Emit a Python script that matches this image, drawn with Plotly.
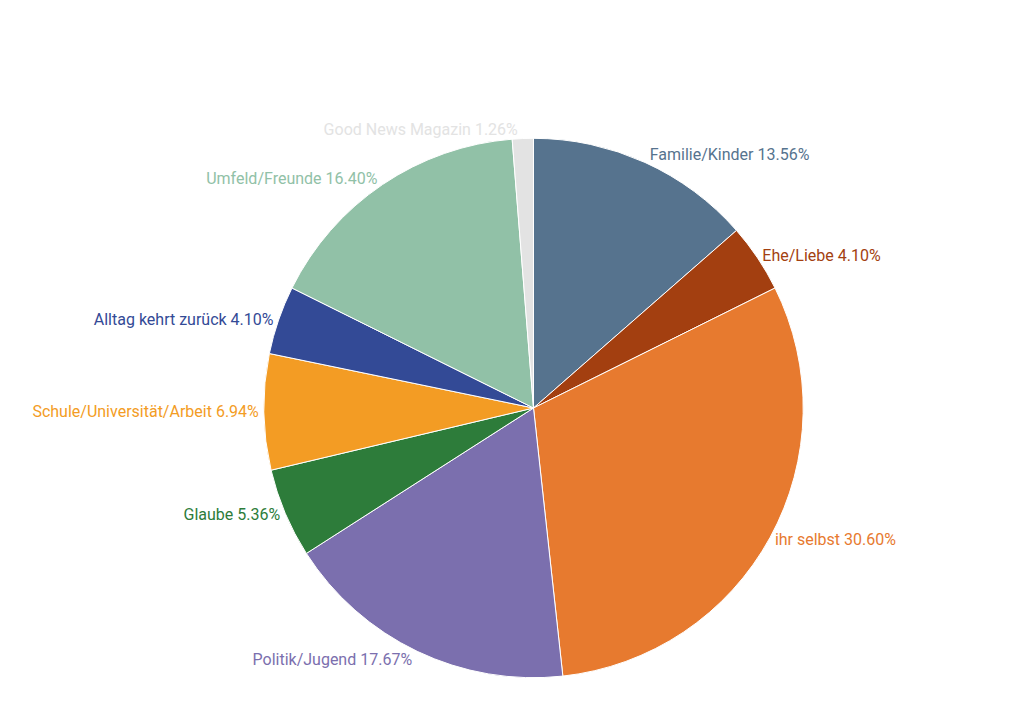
import plotly.graph_objects as go

labels = ["Familie/Kinder", "Ehe/Liebe", "ihr selbst", "Politik/Jugend", "Glaube",
          "Schule/Universität/Arbeit", "Alltag kehrt zurück", "Umfeld/Freunde", "Good News Magazin"]
values = [13.56, 4.10, 30.60, 17.67, 5.36, 6.94, 4.10, 16.40, 1.26]
colors = ["#56738e", "#a33f10", "#e77a2f", "#7b6fae", "#2d7c3a",
          "#f39c24", "#334a96", "#91c1a7", "#e3e3e3"]

fig = go.Figure(go.Pie(
    labels=labels, values=values, sort=False, direction="clockwise", rotation=0,
    marker=dict(colors=colors, line=dict(color="white", width=1)),
    textposition="outside", texttemplate="%{label} %{value:.2f}%",
    textfont=dict(color=colors, size=16, family="Roboto"),
    hoverinfo="label+value", showlegend=False,
    domain=dict(x=[0.22, 0.78], y=[0.075, 0.82]),
))
fig.update_layout(width=1024, height=724, margin=dict(l=0, r=0, t=0, b=0),
                  paper_bgcolor="white", font=dict(family="Roboto"))
fig.write_html("out.html")
